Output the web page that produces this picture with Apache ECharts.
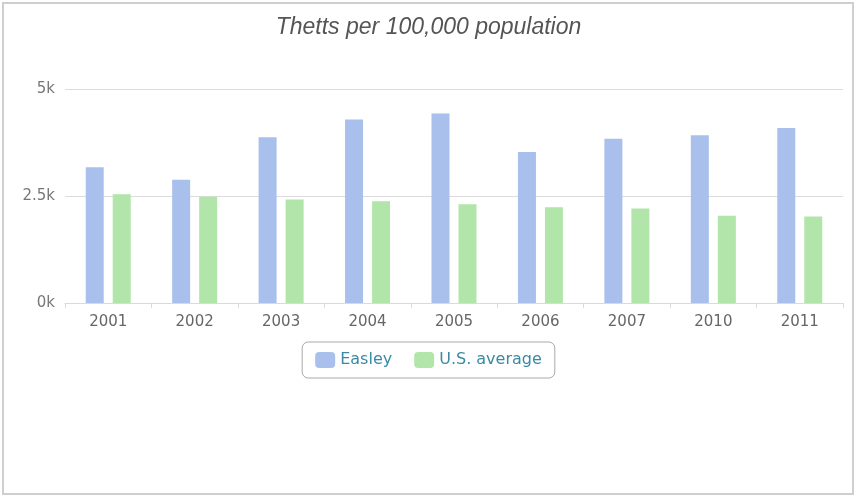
<!DOCTYPE html>
<html>
<head>
<meta charset="utf-8">
<script src="https://cdn.jsdelivr.net/npm/echarts@6/dist/echarts.min.js"></script>
<style>
html,body{margin:0;padding:0;background:#fff;}
#chart{width:857px;height:498px;}
</style>
</head>
<body>
<div id="chart"></div>
<script>
const titleText = 'Thetts per 100,000 population';
const categories = ['2001','2002','2003','2004','2005','2006','2007','2010','2011'];
const easley = [3170, 2880, 3870, 4290, 4430, 3530, 3840, 3920, 4090];
const usAverage = [2540, 2480, 2420, 2380, 2310, 2240, 2210, 2040, 2020];
const yTicks = [0, 2500, 5000];

const chart = echarts.init(document.getElementById('chart'));
chart.setOption({
  backgroundColor: '#ffffff',
  animation: false,
  title: {
    text: titleText,
    left: 'center',
    top: 11,
    textStyle: {fontFamily: 'Liberation Sans', fontStyle: 'italic', fontWeight: 'normal', fontSize: 23, color: '#555'}
  },
  graphic: [{
    type: 'rect', silent: true,
    shape: {x: 3, y: 3, width: 850, height: 491},
    style: {fill: 'none', stroke: '#cfcfcf', lineWidth: 2}
  }],
  legend: {
    data: ['Easley', 'U.S. average'],
    top: 342,
    left: 'center',
    itemWidth: 20,
    itemHeight: 16,
    itemGap: 22,
    padding: [10, 13],
    borderColor: '#aaa',
    borderWidth: 1,
    borderRadius: 6,
    icon: 'roundRect',
    textStyle: {fontFamily: 'DejaVu Sans', fontSize: 16, color: '#3a8aa5'}
  },
  grid: {left: 65, right: 14, top: 89, bottom: 195, containLabel: false},
  xAxis: {
    type: 'category',
    data: categories,
    axisLine: {lineStyle: {color: '#d6dbe0'}},
    axisTick: {show: true, alignWithLabel: false, length: 5, lineStyle: {color: '#d6dbe0'}},
    axisLabel: {fontFamily: 'DejaVu Sans', fontSize: 15, color: '#666', margin: 12}
  },
  yAxis: {
    type: 'value',
    min: yTicks[0],
    max: yTicks[yTicks.length - 1],
    interval: yTicks[1] - yTicks[0],
    axisLine: {show: false},
    axisTick: {show: false},
    splitLine: {lineStyle: {color: '#dcdcdc', type: 'solid'}},
    axisLabel: {
      fontFamily: 'DejaVu Sans', fontSize: 15, color: '#777', margin: 10,
      formatter: v => (v / 1000) + 'k'
    }
  },
  series: [
    {name: 'Easley', type: 'bar', data: easley, barWidth: 18, barGap: '50%',
     itemStyle: {color: '#a9bfec'}},
    {name: 'U.S. average', type: 'bar', data: usAverage, barWidth: 18,
     itemStyle: {color: '#b1e5a9'}}
  ]
});
</script>
</body>
</html>
